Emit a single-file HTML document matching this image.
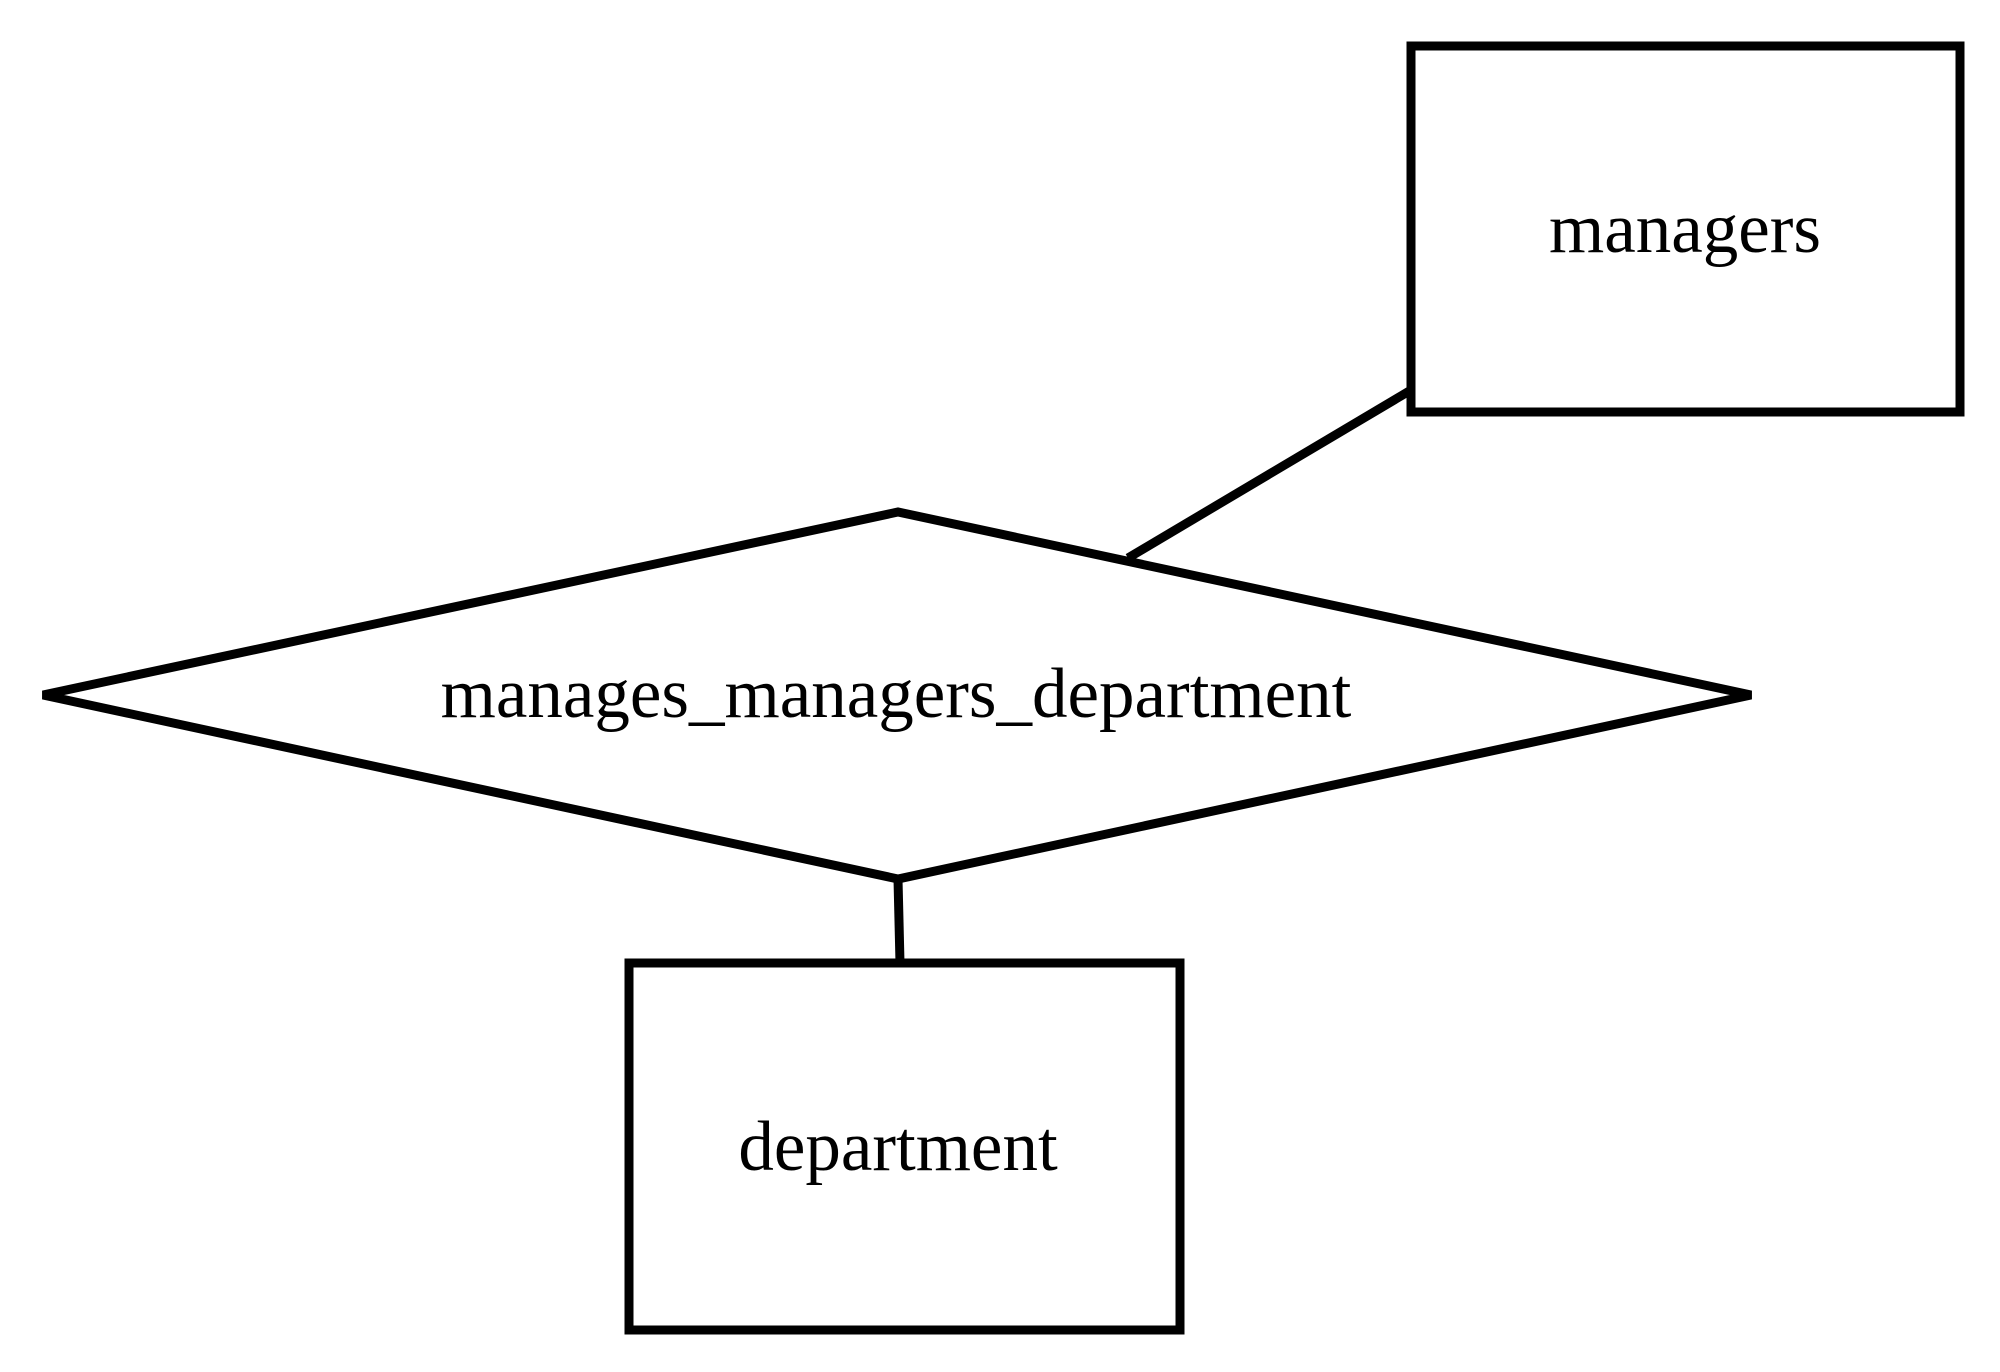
<!DOCTYPE html>
<html><head><style>html,body{margin:0;padding:0;background:#fff}</style></head>
<body>
<svg width="2000" height="1367" viewBox="0 0 2000 1367" xmlns="http://www.w3.org/2000/svg">
<rect width="2000" height="1367" fill="#fff"/>
<g fill="none" stroke="#000" stroke-width="9" stroke-miterlimit="4">
<rect x="1411" y="46" width="549" height="366"/>
<polygon points="43,695 898,512 1751,695 898,879"/>
<rect x="629" y="963" width="551" height="367"/>
<line x1="1411" y1="390" x2="1128" y2="558"/>
<line x1="898" y1="879" x2="900" y2="963"/>
</g>
<g font-family="Liberation Serif, serif" font-size="71" text-anchor="middle" fill="#000">
<text x="1685" y="252">managers</text>
<text x="896" y="717">manages_managers_department</text>
<text x="898" y="1170">department</text>
</g>
</svg>
</body></html>
